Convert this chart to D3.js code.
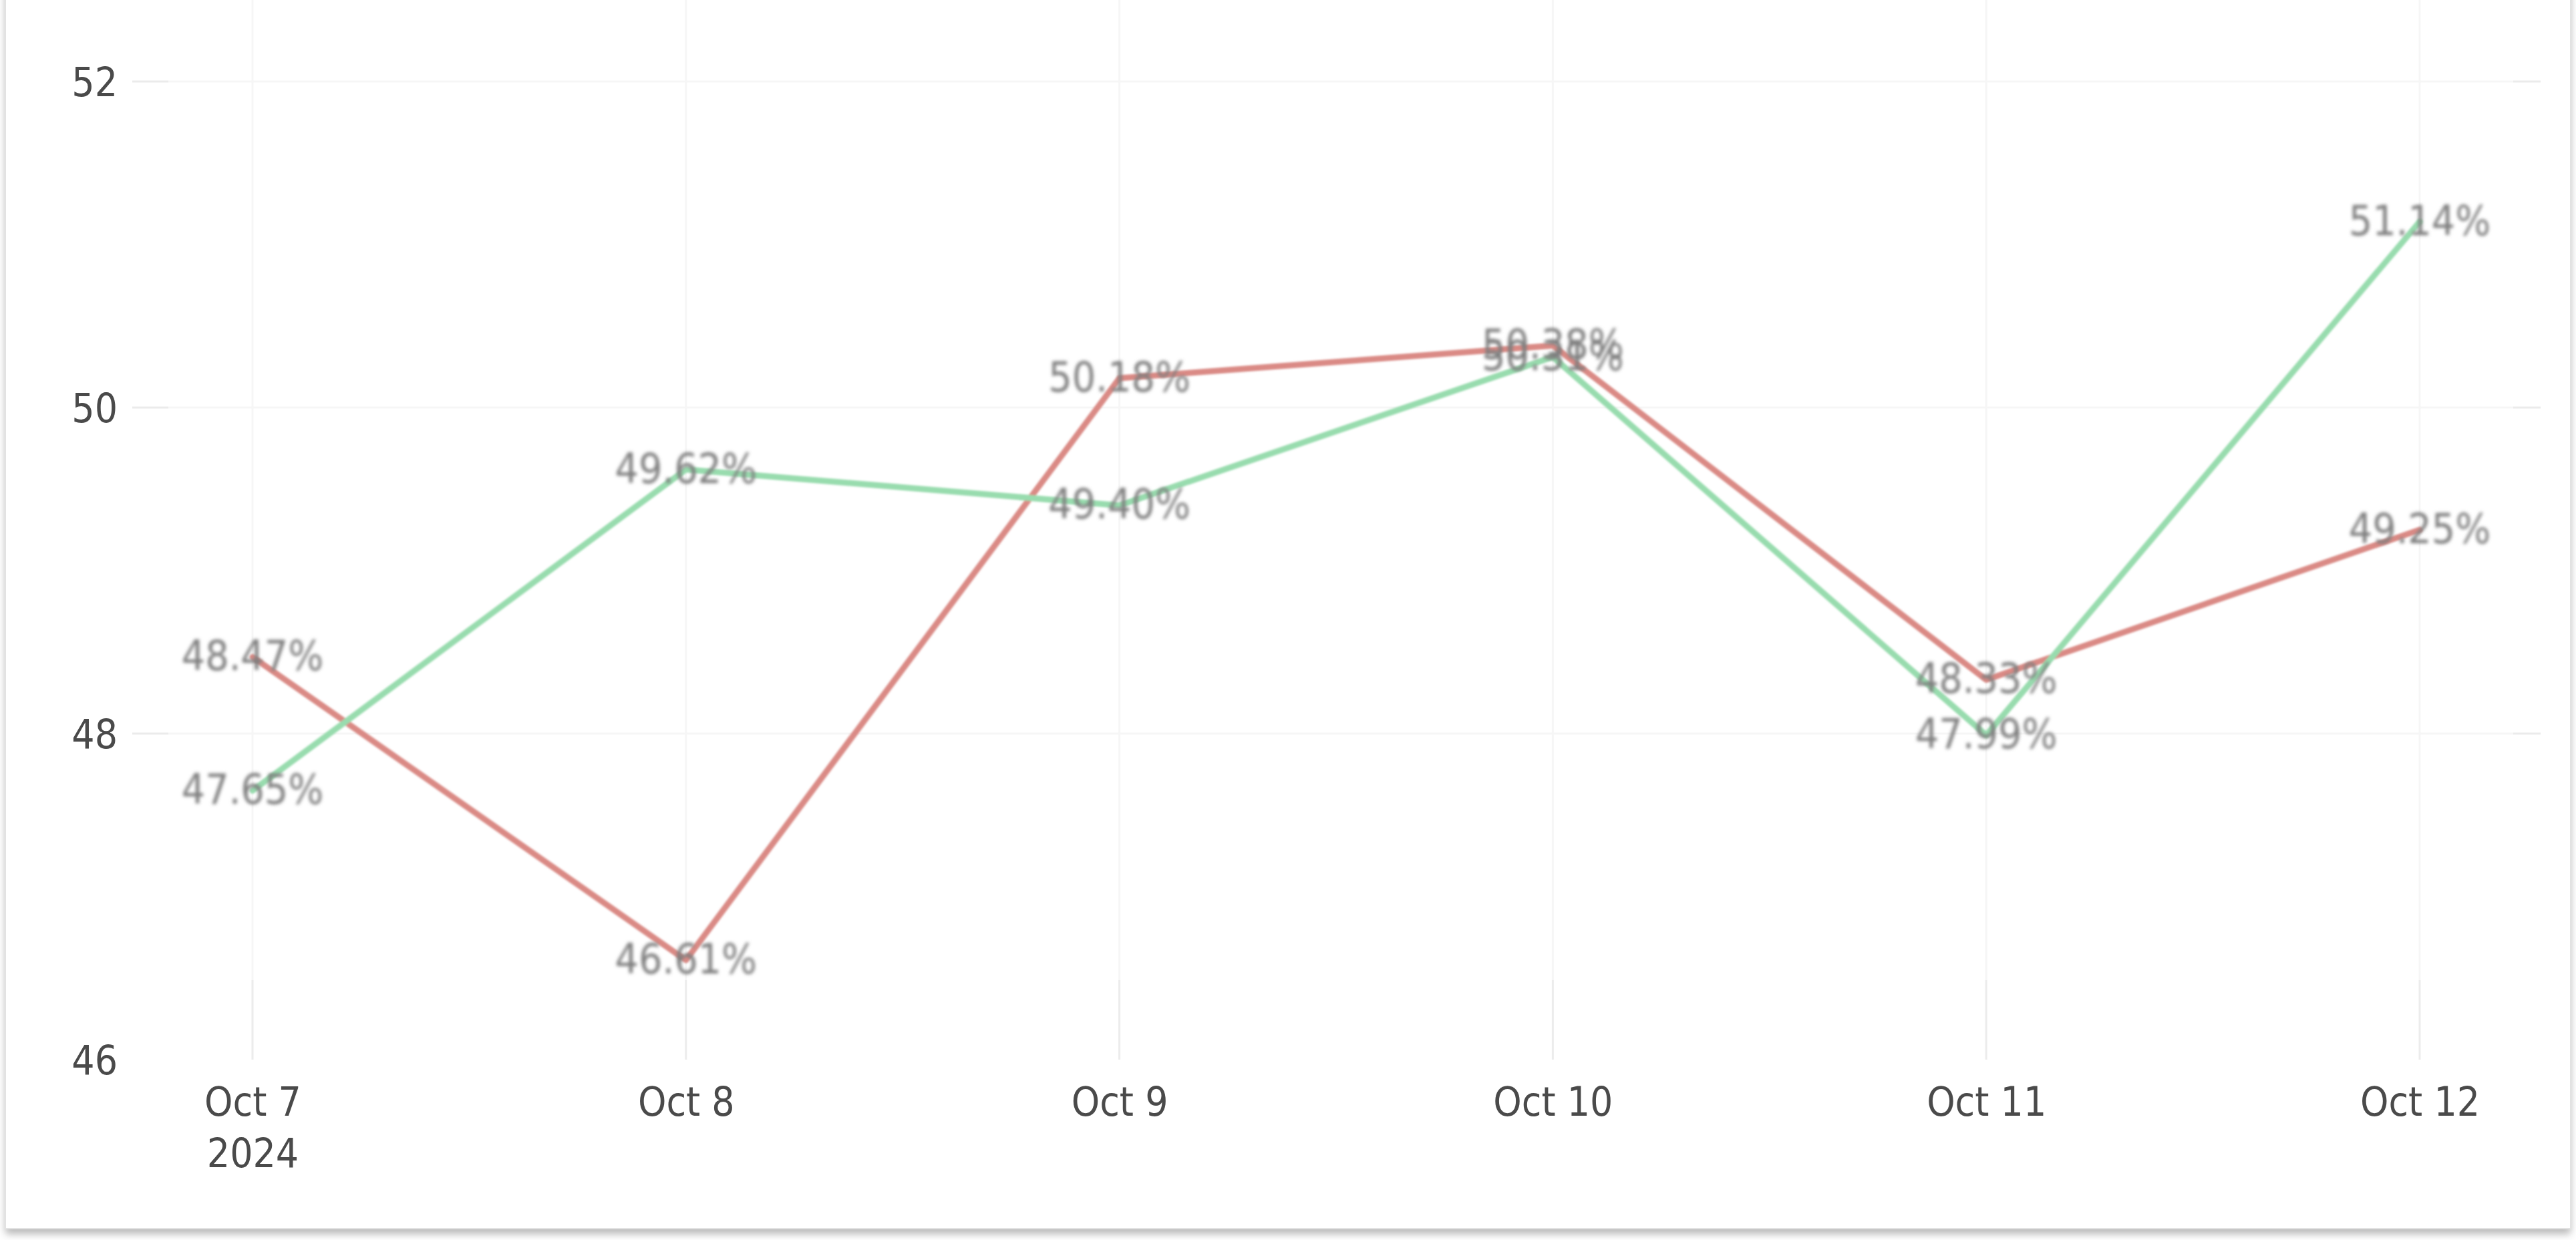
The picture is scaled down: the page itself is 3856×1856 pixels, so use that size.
<!DOCTYPE html>
<html>
<head>
<meta charset="utf-8">
<script src="https://cdn.jsdelivr.net/npm/d3@7"></script>
<style>
  html, body { margin: 0; padding: 0; background: #ffffff; }
  svg { display: block; }
  text { font-family: "DejaVu Sans Condensed", "DejaVu Sans", sans-serif; font-stretch: condensed; }
</style>
</head>
<body>
<svg id="chart" width="3856" height="1856"></svg>
<script>
// ---- data ----
const dates = ["2024-10-07", "2024-10-08", "2024-10-09", "2024-10-10", "2024-10-11", "2024-10-12"];
const redValues = [48.47, 46.61, 50.18, 50.38, 48.33, 49.25];
const greenValues = [47.65, 49.62, 49.40, 50.31, 47.99, 51.14];
const yTicks = [46, 48, 50, 52];
const yDomain = [46, 52.5];

const parse = d3.utcParse("%Y-%m-%d");
const dateObjs = dates.map(parse);

const svg = d3.select("#chart");

// plot area
const plot = { left: 198, right: 3803, top: 0, bottom: 1586 };

const defs = svg.append("defs");
const sh = defs.append("filter").attr("id", "shadow").attr("x", "-5%").attr("y", "-5%").attr("width", "110%").attr("height", "110%");
sh.append("feDropShadow").attr("dx", 0).attr("dy", 8).attr("stdDeviation", 6).attr("flood-color", "#000").attr("flood-opacity", 0.28);
defs.append("filter").attr("id", "blurLine").append("feGaussianBlur").attr("stdDeviation", 1.8);
defs.append("filter").attr("id", "blurText").append("feGaussianBlur").attr("stdDeviation", 2.5);

// card
svg.append("rect").attr("x", 8).attr("y", -30).attr("width", 3840).attr("height", 1869)
  .attr("fill", "#ffffff").attr("filter", "url(#shadow)");
svg.append("rect").attr("x", 8).attr("y", -30).attr("width", 3840).attr("height", 1869)
  .attr("fill", "#ffffff").attr("stroke", "#e2e2e2").attr("stroke-width", 2);

// scales: time axis with padding
const x0 = dateObjs[0].getTime(), x1 = dateObjs[dateObjs.length - 1].getTime();
const xPx0 = 378, xPx1 = 3622;
const pxPerMs = (xPx1 - xPx0) / (x1 - x0);
const x = d3.scaleUtc()
  .domain([new Date(x0 - (xPx0 - plot.left) / pxPerMs), new Date(x1 + (plot.right - xPx1) / pxPerMs)])
  .range([plot.left, plot.right]);
const y = d3.scaleLinear().domain(yDomain).range([plot.bottom, plot.top]);

// gridlines
const grid = svg.append("g");
grid.selectAll("line.h").data(yTicks.filter(t => t > yDomain[0])).join("line")
  .attr("x1", plot.left).attr("x2", plot.right)
  .attr("y1", d => y(d)).attr("y2", d => y(d))
  .attr("stroke", "#ebebeb").attr("stroke-width", 3);
grid.selectAll("line.v").data(dateObjs).join("line")
  .attr("x1", d => x(d)).attr("x2", d => x(d))
  .attr("y1", plot.top).attr("y2", plot.bottom)
  .attr("stroke", "#ececec").attr("stroke-width", 3);

// washed inner overlay
svg.append("rect").attr("x", 252).attr("y", 0).attr("width", 3762 - 252).attr("height", 1467)
  .attr("fill", "#ffffff").attr("opacity", 0.55);

// axes
const yAxis = d3.axisLeft(y).tickValues(yTicks).tickSize(0).tickPadding(0).tickFormat(d3.format("d"));
const gy = svg.append("g").attr("transform", `translate(${176},0)`).call(yAxis);
gy.select(".domain").remove();
gy.selectAll("text").attr("font-size", 60).attr("fill", "#4a4a4a")
  .attr("font-family", "\"DejaVu Sans Condensed\", \"DejaVu Sans\", sans-serif")
  .attr("dy", "0.36em");

const fmtMD = d3.utcFormat("%b %-d");
const xAxis = d3.axisBottom(x).tickValues(dateObjs).tickSize(0).tickPadding(0).tickFormat(fmtMD);
const gx = svg.append("g").attr("transform", `translate(0,${1670})`).call(xAxis);
gx.select(".domain").remove();
gx.selectAll("text").attr("font-size", 60).attr("fill", "#4a4a4a")
  .attr("font-family", "\"DejaVu Sans Condensed\", \"DejaVu Sans\", sans-serif")
  .attr("dy", 0).attr("y", 0);
gx.selectAll(".tick").filter((d, i) => i === 0).append("text")
  .attr("y", 77).attr("text-anchor", "middle").attr("font-size", 60).attr("fill", "#4a4a4a")
  .attr("font-family", "\"DejaVu Sans Condensed\", \"DejaVu Sans\", sans-serif")
  .text(d3.utcFormat("%Y")(dateObjs[0]));

// lines
const series = [
  { name: "red", values: redValues, color: "#da8a85" },
  { name: "green", values: greenValues, color: "#98dcae" }
];
const line = d3.line().x(d => x(d.date)).y(d => y(d.value));
const gl = svg.append("g").attr("filter", "url(#blurLine)");
series.forEach(s => {
  const pts = s.values.map((v, i) => ({ date: dateObjs[i], value: v }));
  gl.append("path").datum(pts).attr("d", line)
    .attr("fill", "none").attr("stroke", s.color).attr("stroke-width", 9)
    .attr("stroke-linejoin", "round").attr("stroke-linecap", "round");
});

// data labels
const gt = svg.append("g").attr("filter", "url(#blurText)");
series.forEach(s => {
  gt.selectAll(null).data(s.values.map((v, i) => ({ date: dateObjs[i], value: v }))).join("text")
    .attr("x", d => x(d.date)).attr("y", d => y(d.value))
    .attr("dy", "0.32em")
    .attr("text-anchor", "middle").attr("font-size", 62).attr("fill", "#7e7e7e")
    .text(d => d.value.toFixed(2) + "%");
});
</script>
</body>
</html>
